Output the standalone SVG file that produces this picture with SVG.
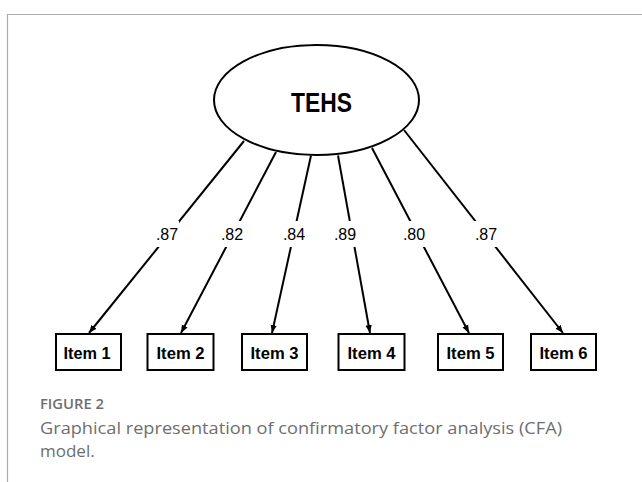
<svg xmlns="http://www.w3.org/2000/svg" width="642" height="482" viewBox="0 0 642 482">
<defs>
<style>
.ln{stroke:#000;stroke-width:2;fill:none}
.box{fill:#fff;stroke:#000;stroke-width:2}
.item{font-family:"Liberation Sans",Arial,sans-serif;font-weight:bold;font-size:16px;fill:#000;text-anchor:middle}
.lbl{font-family:"Liberation Sans",Arial,sans-serif;font-size:16px;fill:#000;text-anchor:middle}
.cap{font-family:"Open Sans","Noto Sans",sans-serif;fill:#6e6e6e}
</style>
<marker id="ah" viewBox="0 0 10 10" refX="10" refY="5" markerWidth="8" markerHeight="8" markerUnits="userSpaceOnUse" orient="auto">
<path d="M0,1 L10,5 L0,9 Z" fill="#000"/>
</marker>
</defs>
<rect width="642" height="482" fill="#fff"/>
<path d="M7.5,482 V14.5 H642" fill="none" stroke="#aaa" stroke-width="1.2"/>

<g id="connectors">
<line class="ln" x1="244" y1="141" x2="89" y2="333" marker-end="url(#ah)"/>
<line class="ln" x1="276" y1="152" x2="181" y2="333" marker-end="url(#ah)"/>
<line class="ln" x1="311" y1="155.5" x2="272" y2="333" marker-end="url(#ah)"/>
<line class="ln" x1="338" y1="155.5" x2="370" y2="333" marker-end="url(#ah)"/>
<line class="ln" x1="372" y1="148" x2="469" y2="333" marker-end="url(#ah)"/>
<line class="ln" x1="404" y1="130" x2="563" y2="333" marker-end="url(#ah)"/>
<g fill="#fff">
<rect x="155" y="221" width="24" height="26"/>
<rect x="220" y="221" width="24" height="26"/>
<rect x="282" y="221" width="24" height="26"/>
<rect x="333" y="221" width="24" height="26"/>
<rect x="402" y="221" width="24" height="26"/>
<rect x="474" y="221" width="24" height="26"/>
</g>
<text class="lbl" x="167" y="240">.87</text>
<text class="lbl" x="232" y="240">.82</text>
<text class="lbl" x="294" y="240">.84</text>
<text class="lbl" x="345" y="240">.89</text>
<text class="lbl" x="414" y="240">.80</text>
<text class="lbl" x="486" y="240">.87</text>
</g>

<g id="TEHS">
<ellipse cx="316.5" cy="100" rx="102.5" ry="55" fill="#fff" stroke="#000" stroke-width="2"/>
<text x="321.5" y="112" font-family="'Liberation Sans',Arial,sans-serif" font-weight="bold" font-size="27" text-anchor="middle" textLength="61" lengthAdjust="spacingAndGlyphs">TEHS</text>
</g>

<g id="item1"><rect class="box" x="56" y="334" width="65" height="36"/><text class="item" x="87" y="358.5" textLength="47" lengthAdjust="spacingAndGlyphs">Item 1</text></g>
<g id="item2"><rect class="box" x="147.5" y="334" width="66" height="36"/><text class="item" x="180.5" y="358.5" textLength="48" lengthAdjust="spacingAndGlyphs">Item 2</text></g>
<g id="item3"><rect class="box" x="242" y="334" width="65" height="36"/><text class="item" x="274.5" y="358.5" textLength="48" lengthAdjust="spacingAndGlyphs">Item 3</text></g>
<g id="item4"><rect class="box" x="338.5" y="334" width="66" height="36"/><text class="item" x="371.5" y="358.5" textLength="48" lengthAdjust="spacingAndGlyphs">Item 4</text></g>
<g id="item5"><rect class="box" x="438" y="334" width="65" height="36"/><text class="item" x="470.5" y="358.5" textLength="48" lengthAdjust="spacingAndGlyphs">Item 5</text></g>
<g id="item6"><rect class="box" x="531" y="334" width="65" height="36"/><text class="item" x="563.5" y="358.5" textLength="48" lengthAdjust="spacingAndGlyphs">Item 6</text></g>

<g id="caption">
<text class="cap" x="40" y="409" font-size="13.5" font-weight="600" fill="#7a7a7a" textLength="64" lengthAdjust="spacingAndGlyphs">FIGURE 2</text>
<text class="cap" x="40" y="434" font-size="17" textLength="522" lengthAdjust="spacingAndGlyphs">Graphical representation of confirmatory factor analysis (CFA)</text>
<text class="cap" x="40" y="457" font-size="17">model.</text>
</g>
</svg>
